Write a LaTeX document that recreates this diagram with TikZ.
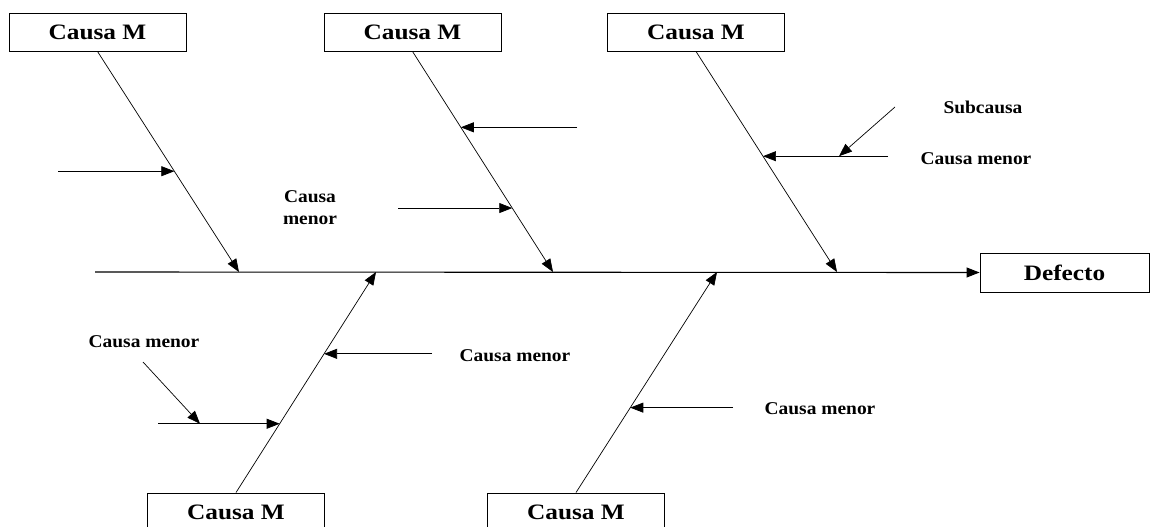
\documentclass[tikz,border=0pt]{standalone}
\usepackage{fontspec}
\usepackage{graphicx}
\setmainfont{Liberation Serif}
\usetikzlibrary{arrows.meta,calc}
\tikzset{
  causebox/.style={draw, line width=0.9pt, minimum width=177pt, minimum height=38pt, inner sep=0pt,
    font=\fontsize{22}{24}\selectfont\bfseries},
  lbl/.style={inner sep=0pt, font=\fontsize{18}{24}\selectfont\bfseries, align=center},
  bone/.style={line width=0.7pt, -{Triangle[length=13pt,width=10pt]}},
  spine/.style={line width=1.1pt, -{Triangle[length=13pt,width=10pt]}},
  minor/.style={line width=0.7pt, -{Triangle[length=13pt,width=10pt]}},
}
\newcommand{\wb}[1]{\scalebox{1.15}[1]{#1}}
\newcommand{\ws}[1]{\scalebox{1.08}[1]{#1}}
\begin{document}
\begin{tikzpicture}[x=1pt,y=-1pt]
\clip (0,0) rectangle (1151,527);
\fill[white] (0,0) rectangle (1151,527);
% boxes
\node[causebox] (t1) at (97.5,32) {\wb{Causa M}};
\node[causebox] (t2) at (412.5,32) {\wb{Causa M}};
\node[causebox] (t3) at (696,32) {\wb{Causa M}};
\node[causebox, minimum width=169pt, minimum height=39pt] (def) at (1064.5,272.5) {\wb{Defecto}};
\node[causebox, minimum height=40pt] (b1) at (236,513) {\raisebox{2pt}{\wb{Causa M}}};
\node[causebox, minimum height=40pt] (b2) at (576,513) {\raisebox{2pt}{\wb{Causa M}}};
% spine
\coordinate (sp0) at (95,272);
\coordinate (s1) at (239,272);
\coordinate (s2) at (553,272);
\coordinate (s3) at (837,272);
\coordinate (s4) at (376,272);
\coordinate (s5) at (717,272);
\draw[spine] (sp0) -- (def.west);
% bones
\draw[bone] (t1.south) -- (s1);
\draw[bone] (t2.south) -- (s2);
\draw[bone] (t3.south) -- (s3);
\draw[bone] (b1.north) -- (s4);
\draw[bone] (b2.north) -- (s5);
% points on bones
\coordinate (m1) at ($(t1.south)!0.543!(s1)$);
\coordinate (m2) at ($(t2.south)!0.344!(s2)$);
\coordinate (m3) at ($(t2.south)!0.710!(s2)$);
\coordinate (m4) at ($(t3.south)!0.475!(s3)$);
\coordinate (m5) at ($(b1.north)!0.629!(s4)$);
\coordinate (m6) at ($(b1.north)!0.312!(s4)$);
\coordinate (m7) at ($(b2.north)!0.385!(s5)$);
% minor arrow starts
\coordinate (a1) at (58,0 |- m1);
\coordinate (a2) at (577,0 |- m2);
\coordinate (a3) at (398,0 |- m3);
\coordinate (a4) at (888,0 |- m4);
\coordinate (a5) at (432,0 |- m5);
\coordinate (a6) at (158,0 |- m6);
\coordinate (a7) at (733,0 |- m7);
\draw[minor] (a1) -- (m1);
\draw[minor] (a2) -- (m2);
\draw[minor] (a3) -- (m3);
\draw[minor] (a4) -- (m4);
\draw[minor] (a5) -- (m5);
\draw[minor] (a6) -- (m6);
\draw[minor] (a7) -- (m7);
% sub-cause arrows
\coordinate (sc1s) at (895,107);
\coordinate (sc1e) at (839,0 |- m4);
\draw[minor] (sc1s) -- (sc1e);
\coordinate (sc2s) at (143,362);
\coordinate (sc2e) at (200,0 |- m6);
\draw[minor] (sc2s) -- (sc2e);
% labels
\node[lbl] (l1) at (983,107) {\ws{Subcausa}};
\node[lbl] (l2) at (976,159) {\ws{Causa menor}};
\node[lbl] (l3) at (310,208) {\ws{Causa}\\[-2pt]\ws{menor}};
\node[lbl] (l4) at (144,342) {\ws{Causa menor}};
\node[lbl] (l5) at (515,356) {\ws{Causa menor}};
\node[lbl] (l6) at (820,409) {\ws{Causa menor}};
\end{tikzpicture}
\end{document}
